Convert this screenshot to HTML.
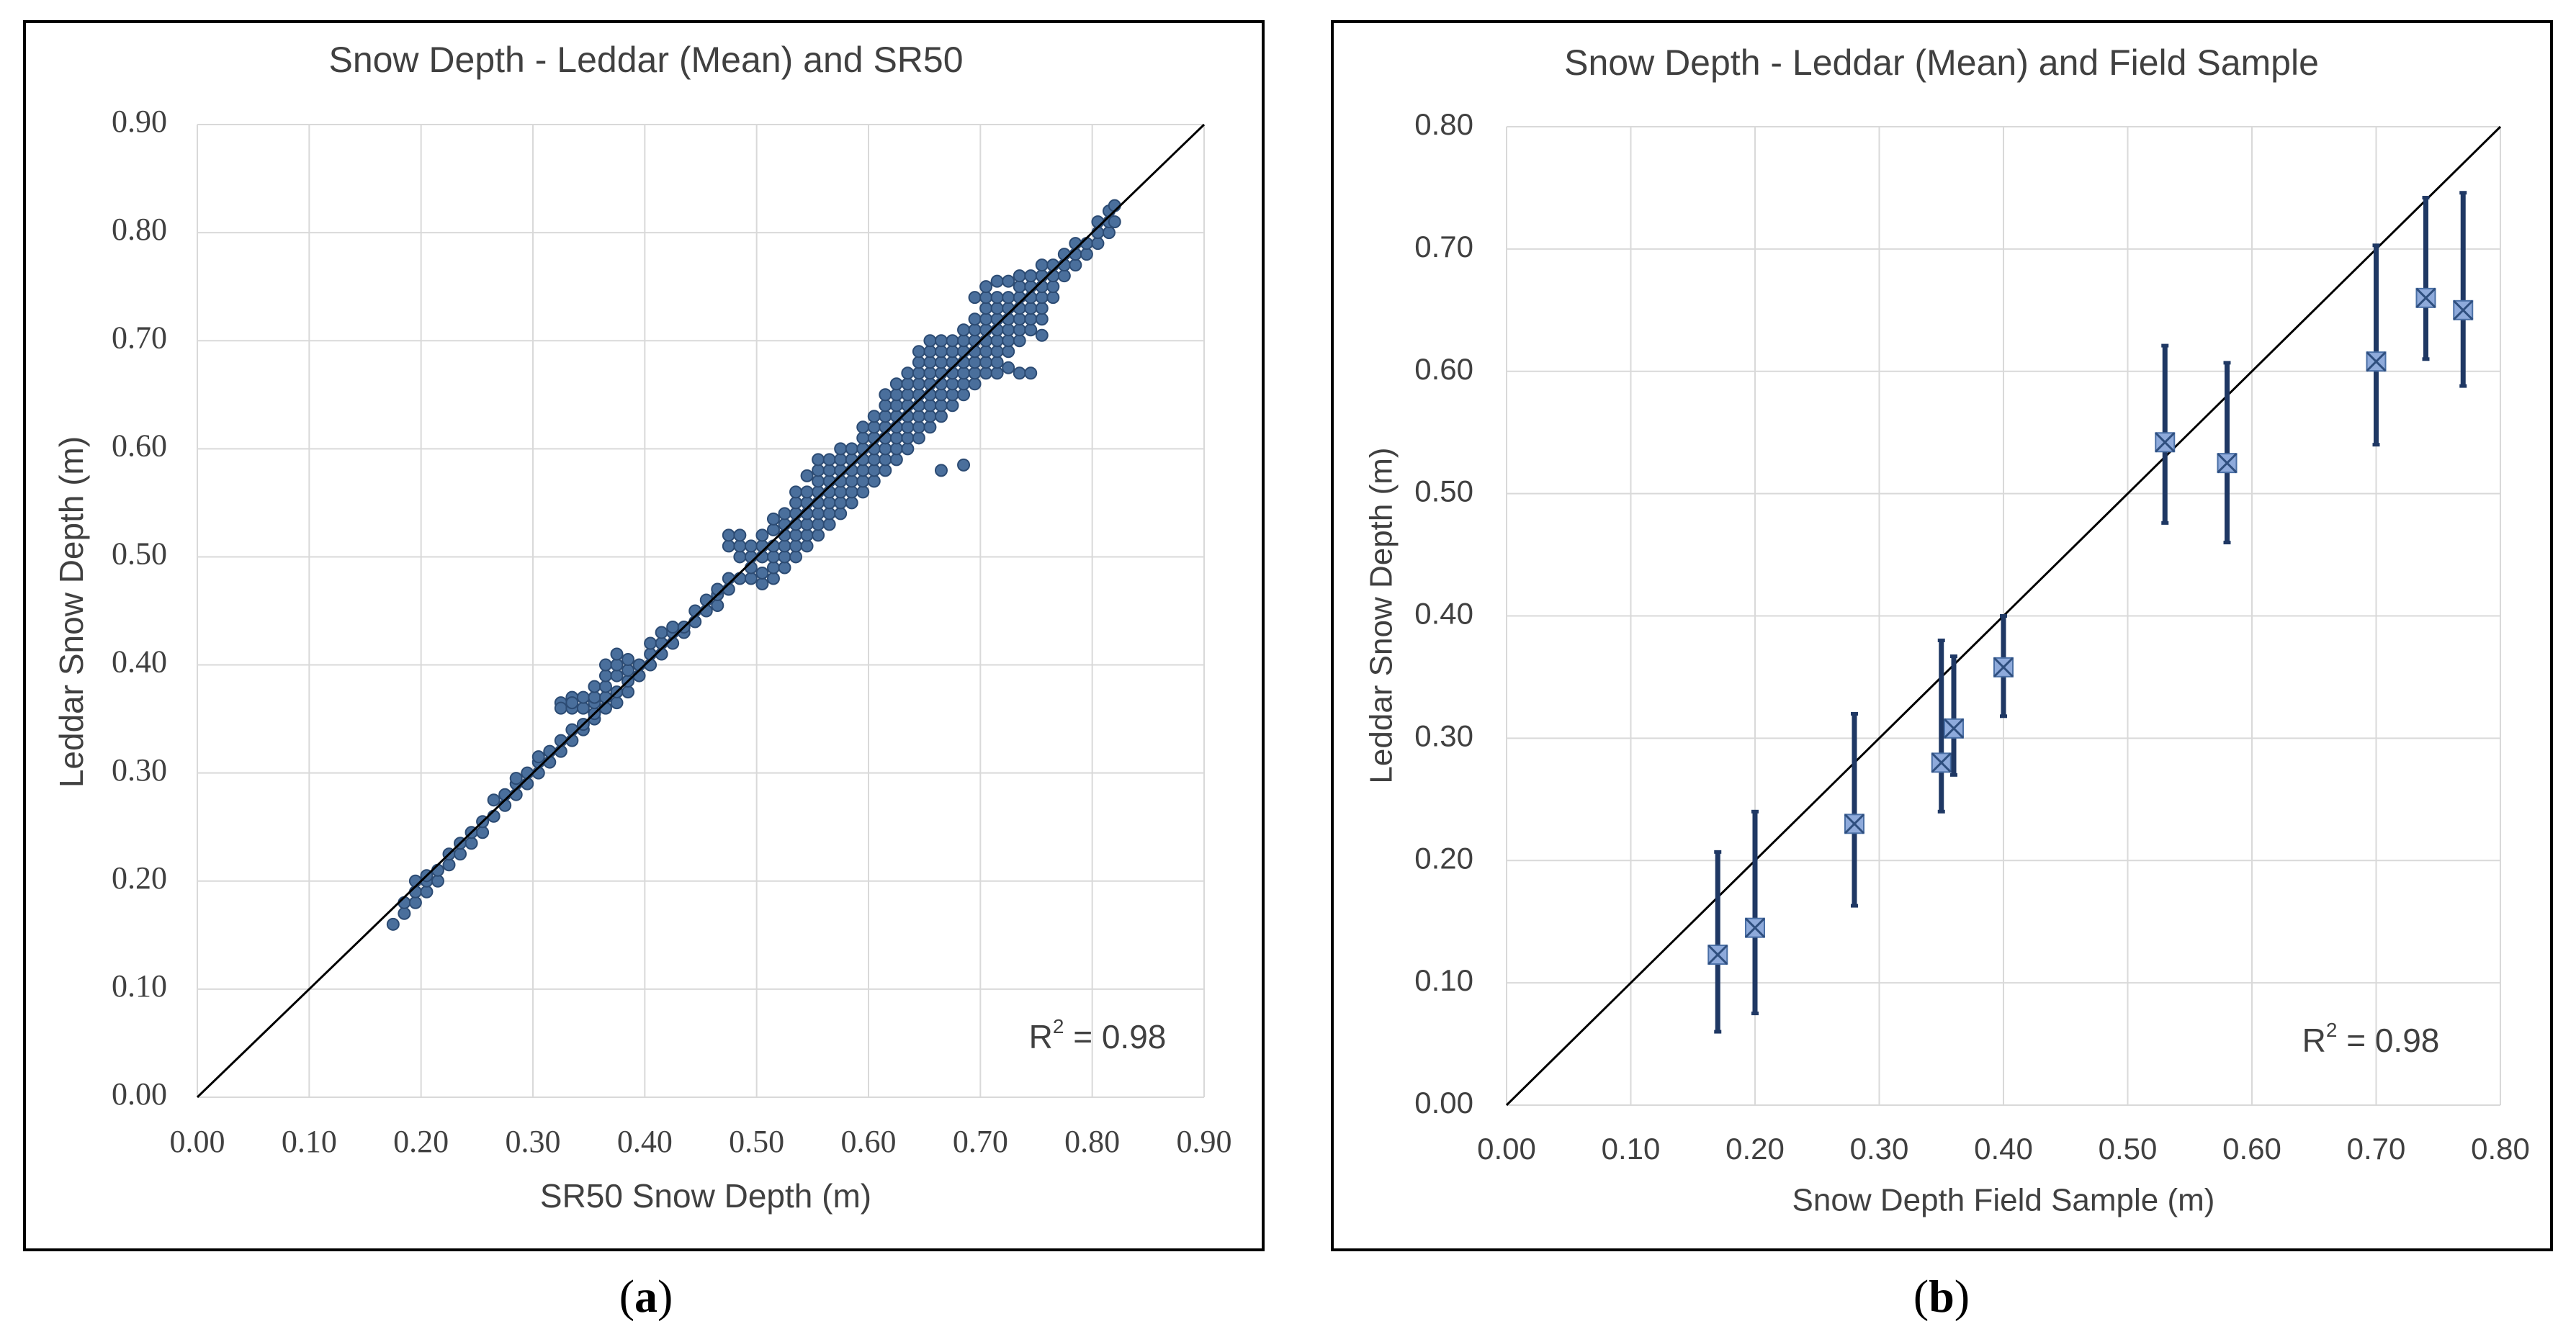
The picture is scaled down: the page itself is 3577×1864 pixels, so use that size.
<!DOCTYPE html>
<html><head><meta charset="utf-8">
<style>
html,body{margin:0;padding:0;background:#fff;}
svg{display:block;}
text{font-family:"Liberation Sans",sans-serif;fill:#404040;}
.serif{font-family:"Liberation Serif",serif;}
</style></head>
<body>
<svg id="fig" width="3577" height="1864" viewBox="0 0 3577 1864" xmlns="http://www.w3.org/2000/svg">
  <rect x="34" y="30" width="1720" height="1706" fill="#fff" stroke="#000" stroke-width="4"/>
  <rect x="1850" y="30" width="1693" height="1706" fill="#fff" stroke="#000" stroke-width="4"/>
  <g id="ga"></g>
  <g id="gb"></g>
  <text x="897" y="87" font-size="50" text-anchor="middle" dominant-baseline="middle">Snow Depth - Leddar (Mean) and SR50</text>
  <text x="980" y="1665" font-size="46" text-anchor="middle" dominant-baseline="middle">SR50 Snow Depth (m)</text>
  <text x="103" y="850" font-size="46" text-anchor="middle" dominant-baseline="middle" transform="rotate(-90 103 850)">Leddar Snow Depth (m)</text>
  <text x="1524" y="1444" font-size="46" text-anchor="middle" dominant-baseline="middle">R<tspan font-size="28" dy="-16">2</tspan><tspan dy="16"> = 0.98</tspan></text>
  <text x="897" y="1807" font-size="64" text-anchor="middle" dominant-baseline="middle" class="serif" style="fill:#000">(<tspan font-weight="bold">a</tspan>)</text>

  <text x="2696" y="91" font-size="50" text-anchor="middle" dominant-baseline="middle">Snow Depth - Leddar (Mean) and Field Sample</text>
  <text x="2782" y="1670" font-size="44" text-anchor="middle" dominant-baseline="middle">Snow Depth Field Sample (m)</text>
  <text x="1921" y="855" font-size="44" text-anchor="middle" dominant-baseline="middle" transform="rotate(-90 1921 855)">Leddar Snow Depth (m)</text>
  <text x="3292" y="1449" font-size="46" text-anchor="middle" dominant-baseline="middle">R<tspan font-size="28" dy="-16">2</tspan><tspan dy="16"> = 0.98</tspan></text>
  <text x="2696" y="1807" font-size="64" text-anchor="middle" dominant-baseline="middle" class="serif" style="fill:#000">(<tspan font-weight="bold">b</tspan>)</text>
</svg>
<script>
// ---- Panel A data ----
const aTicks = [0,0.1,0.2,0.3,0.4,0.5,0.6,0.7,0.8,0.9];
const aTickLabels = ["0.00","0.10","0.20","0.30","0.40","0.50","0.60","0.70","0.80","0.90"];
const aLine = [[0,0],[0.9,0.9]];
const aGroups = [
[0.175,[0.16]],[0.185,[0.17,0.18]],[0.195,[0.18,0.19,0.20]],[0.205,[0.19,0.20,0.205]],
[0.215,[0.20,0.21]],[0.225,[0.215,0.225]],[0.235,[0.225,0.235]],[0.245,[0.235,0.245]],
[0.255,[0.245,0.255]],[0.265,[0.26,0.275]],[0.275,[0.27,0.28]],[0.285,[0.28,0.29,0.295]],
[0.295,[0.29,0.30]],[0.305,[0.30,0.31,0.315]],[0.315,[0.31,0.32]],[0.325,[0.32,0.33,0.365,0.36]],
[0.335,[0.33,0.34,0.36,0.37,0.365]],[0.345,[0.34,0.345,0.36,0.37]],[0.355,[0.35,0.355,0.365,0.37,0.38]],
[0.365,[0.36,0.37,0.38,0.39,0.40]],[0.375,[0.365,0.375,0.39,0.40,0.41]],[0.385,[0.375,0.385,0.395,0.405]],
[0.395,[0.39,0.40]],[0.405,[0.40,0.41,0.42]],[0.415,[0.41,0.42,0.43]],[0.425,[0.42,0.43,0.435]],
[0.435,[0.43,0.435]],[0.445,[0.44,0.45]],[0.455,[0.45,0.46]],[0.465,[0.455,0.465,0.47]],
[0.475,[0.47,0.48,0.51,0.52]],[0.485,[0.48,0.50,0.51,0.52]],[0.495,[0.48,0.49,0.50,0.51]],
[0.505,[0.475,0.485,0.50,0.51,0.52]],[0.515,[0.48,0.49,0.50,0.51,0.525,0.535]],
[0.525,[0.49,0.50,0.51,0.52,0.53,0.54]],[0.535,[0.50,0.51,0.52,0.53,0.54,0.55,0.56]],
[0.545,[0.51,0.52,0.53,0.54,0.55,0.56,0.575]],[0.555,[0.52,0.53,0.54,0.55,0.56,0.57,0.58,0.59]],
[0.565,[0.53,0.54,0.55,0.56,0.57,0.58,0.59]],[0.575,[0.54,0.55,0.56,0.57,0.58,0.59,0.60]],
[0.585,[0.55,0.56,0.57,0.58,0.59,0.60]],[0.595,[0.56,0.57,0.58,0.59,0.60,0.61,0.62]],
[0.605,[0.57,0.58,0.59,0.60,0.61,0.62,0.63]],[0.615,[0.58,0.59,0.60,0.61,0.62,0.63,0.64,0.65]],
[0.625,[0.59,0.60,0.61,0.62,0.63,0.64,0.65,0.66]],[0.635,[0.60,0.61,0.62,0.63,0.64,0.65,0.66,0.67]],
[0.645,[0.61,0.62,0.63,0.64,0.65,0.66,0.67,0.68,0.69]],[0.655,[0.62,0.63,0.64,0.65,0.66,0.67,0.68,0.69,0.70]],
[0.665,[0.58,0.63,0.64,0.65,0.66,0.67,0.68,0.69,0.70]],[0.675,[0.64,0.65,0.66,0.67,0.68,0.69,0.70]],
[0.685,[0.585,0.65,0.66,0.67,0.68,0.69,0.70,0.71]],[0.695,[0.66,0.67,0.68,0.69,0.70,0.71,0.72,0.74]],
[0.705,[0.67,0.68,0.69,0.70,0.71,0.72,0.73,0.74,0.75]],[0.715,[0.67,0.68,0.69,0.70,0.71,0.72,0.73,0.74,0.755]],
[0.725,[0.675,0.69,0.70,0.71,0.72,0.73,0.74,0.755]],[0.735,[0.67,0.70,0.71,0.72,0.73,0.74,0.75,0.76]],
[0.745,[0.67,0.71,0.72,0.73,0.74,0.75,0.76]],[0.755,[0.705,0.72,0.73,0.74,0.75,0.76,0.77]],
[0.765,[0.74,0.75,0.76,0.77]],[0.775,[0.76,0.77,0.78]],[0.785,[0.77,0.78,0.79]],
[0.795,[0.78,0.79]],[0.805,[0.79,0.80,0.81]],[0.815,[0.80,0.81,0.82]],[0.82,[0.81,0.825]]
];
// ---- Panel B data ----
const bTicks = [0,0.1,0.2,0.3,0.4,0.5,0.6,0.7,0.8];
const bTickLabels = ["0.00","0.10","0.20","0.30","0.40","0.50","0.60","0.70","0.80"];
const bField = [0.17,0.20,0.28,0.35,0.36,0.40,0.53,0.58,0.70,0.74,0.77];
const bMean  = [0.123,0.145,0.23,0.28,0.308,0.358,0.542,0.525,0.608,0.66,0.65];
const bLow   = [0.06,0.075,0.163,0.24,0.27,0.318,0.476,0.46,0.54,0.61,0.588];
const bHigh  = [0.207,0.24,0.32,0.38,0.367,0.40,0.621,0.607,0.703,0.742,0.746];
const bLine = [[0,0],[0.8,0.8]];

const NS = "http://www.w3.org/2000/svg";
function mk(parent, tag, attrs){ const e=document.createElementNS(NS,tag); for(const k in attrs) e.setAttribute(k,attrs[k]); parent.appendChild(e); return e; }

// Panel A
const ga = document.getElementById('ga');
const aL=274,aR=1672,aT=173,aB=1524,aMax=0.9;
const ax = v => aL + v/aMax*(aR-aL);
const ay = v => aB - v/aMax*(aB-aT);
aTicks.forEach((t,i)=>{
  const gx = mk(ga,'line',{x1:ax(t),x2:ax(t),y1:aT,y2:aB,stroke:'#d9d9d9','stroke-width':2});
  
  
  const gy = mk(ga,'line',{x1:aL,x2:aR,y1:ay(t),y2:ay(t),stroke:'#d9d9d9','stroke-width':2});
  
  
  const tx = mk(ga,'text',{x:ax(t),y:1590,'font-size':44,'text-anchor':'middle','dominant-baseline':'middle',class:'serif'});
  tx.textContent=aTickLabels[i];
  
  
  const ty = mk(ga,'text',{x:232,y:ay(t),'font-size':44,'text-anchor':'end','dominant-baseline':'middle',class:'serif'});
  ty.textContent=aTickLabels[i];
  
  
});
aGroups.forEach(g=>{
  g[1].forEach(y=>{
    const c = mk(ga,'circle',{cx:ax(g[0]),cy:ay(y),r:8,fill:'#4a6f9c',stroke:'#2c4b73','stroke-width':2});
    
    
  });
});
const la = mk(ga,'line',{x1:ax(aLine[0][0]),y1:ay(aLine[0][1]),x2:ax(aLine[1][0]),y2:ay(aLine[1][1]),stroke:'#000','stroke-width':3});



// Panel B
const gb = document.getElementById('gb');
const bL=2092,bR=3472,bT=176,bB=1535,bMax=0.8;
const bx = v => bL + v/bMax*(bR-bL);
const by = v => bB - v/bMax*(bB-bT);
bTicks.forEach((t,i)=>{
  const gx = mk(gb,'line',{x1:bx(t),x2:bx(t),y1:bT,y2:bB,stroke:'#d9d9d9','stroke-width':2});
  
  
  const gy = mk(gb,'line',{x1:bL,x2:bR,y1:by(t),y2:by(t),stroke:'#d9d9d9','stroke-width':2});
  
  
  const tx = mk(gb,'text',{x:bx(t),y:1599,'font-size':42,'text-anchor':'middle','dominant-baseline':'middle'});
  tx.textContent=bTickLabels[i];
  
  
  const ty = mk(gb,'text',{x:2046,y:by(t),'font-size':42,'text-anchor':'end','dominant-baseline':'middle'});
  ty.textContent=bTickLabels[i];
  
  
});
const lb = mk(gb,'line',{x1:bx(bLine[0][0]),y1:by(bLine[0][1]),x2:bx(bLine[1][0]),y2:by(bLine[1][1]),stroke:'#000','stroke-width':3});


bField.forEach((x,i)=>{
  const X=bx(x);
  const eb = mk(gb,'line',{x1:X,x2:X,y1:by(bLow[i]),y2:by(bHigh[i]),stroke:'#1f3864','stroke-width':7});
  
  
  [bLow[i],bHigh[i]].forEach(v=>{
    const cap = mk(gb,'line',{x1:X-5,x2:X+5,y1:by(v),y2:by(v),stroke:'#1f3864','stroke-width':5});
    
    
  });
  const Y=by(bMean[i]), s=13;
  const m = mk(gb,'rect',{x:X-s,y:Y-s,width:2*s,height:2*s,fill:'#8eaadb',stroke:'#4a6fa5','stroke-width':2});
  
  
  const c1 = mk(gb,'path',{d:`M${X-s} ${Y-s}L${X+s} ${Y+s}M${X+s} ${Y-s}L${X-s} ${Y+s}`,stroke:'#2f4f7f','stroke-width':3});
  
  
});
</script>
</body></html>
